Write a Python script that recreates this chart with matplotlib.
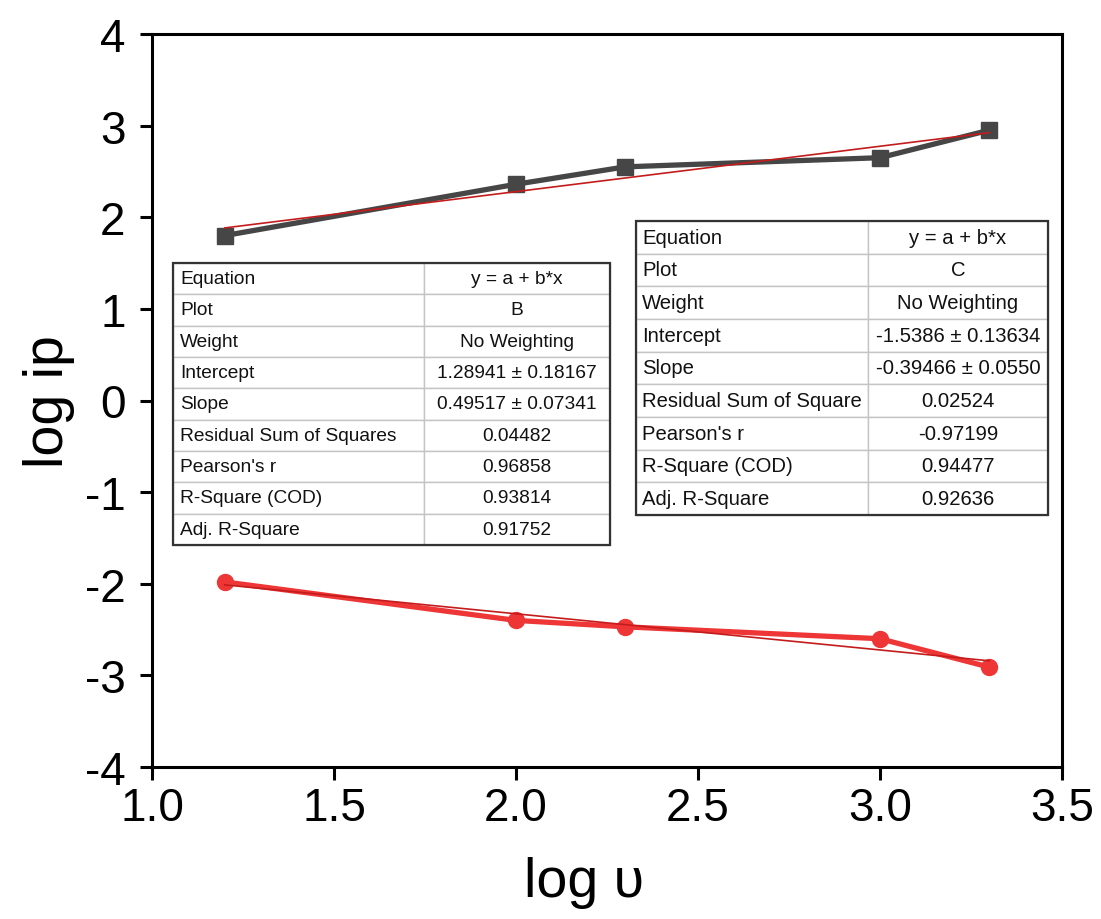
import matplotlib
matplotlib.use("Agg")
import matplotlib.pyplot as plt
import numpy as np
from matplotlib.patches import Rectangle

# log scan rate values
log_v = [1.2, 2.0, 2.3, 3.0, 3.3]
# log peak current, series B (squares) and series C (circles)
log_ip_B = [1.80, 2.36, 2.55, 2.65, 2.95]
log_ip_C = [-1.98, -2.40, -2.47, -2.60, -2.91]

# linear fit parameters
fit_B = {"a": 1.28941, "b": 0.49517}
fit_C = {"a": -1.5386, "b": -0.39466}

x_ticks = [1.0, 1.5, 2.0, 2.5, 3.0, 3.5]
x_ticklabels = ["1.0", "1.5", "2.0", "2.5", "3.0", "3.5"]
y_ticks = [-4, -3, -2, -1, 0, 1, 2, 3, 4]
y_ticklabels = ["-4", "-3", "-2", "-1", "0", "1", "2", "3", "4"]

table_keys = ["Equation", "Plot", "Weight", "Intercept", "Slope",
              "Residual Sum of Squares", "Pearson's r", "R-Square (COD)",
              "Adj. R-Square"]
table_B_vals = ["y = a + b*x", "B", "No Weighting", "1.28941 \u00b1 0.18167",
                "0.49517 \u00b1 0.07341", "0.04482", "0.96858", "0.93814",
                "0.91752"]
table_C_keys = ["Equation", "Plot", "Weight", "Intercept", "Slope",
                "Residual Sum of Square", "Pearson's r", "R-Square (COD)",
                "Adj. R-Square"]
table_C_vals = ["y = a + b*x", "C", "No Weighting", "-1.5386 \u00b1 0.13634",
                "-0.39466 \u00b1 0.0550", "0.02524", "-0.97199", "0.94477",
                "0.92636"]

plt.rcParams["font.family"] = ["Liberation Sans", "DejaVu Sans"]

fig = plt.figure(figsize=(11.01, 9.20), dpi=100)
ax = fig.add_axes([152 / 1101, 1 - 768 / 920, 910 / 1101, 733 / 920])

gray = "#464646"
red = "#ee3636"
fit_col = "#c41c1c"

ax.plot(log_v, log_ip_B, color=gray, lw=3.8, marker="s", ms=12,
        zorder=3)
ax.plot(log_v, log_ip_C, color=red, lw=3.8, marker="o", ms=11.5,
        zorder=3)

xf = np.array([log_v[0], log_v[-1]])
ax.plot(xf, fit_B["a"] + fit_B["b"] * xf, color=fit_col, lw=1.2, zorder=4)
ax.plot(xf, fit_C["a"] + fit_C["b"] * xf, color=fit_col, lw=1.2, zorder=4)

ax.set_xlim(1.0, 3.5)
ax.set_ylim(-4, 4)
ax.set_xticks(x_ticks)
ax.set_xticklabels(x_ticklabels)
ax.set_yticks(y_ticks)
ax.set_yticklabels(y_ticklabels)
ax.tick_params(axis="both", direction="out", length=9, width=2.2,
               labelsize=33, color="black")
ax.tick_params(axis="x", pad=5)
ax.tick_params(axis="y", pad=10)
for sp in ax.spines.values():
    sp.set_linewidth(2.2)
    sp.set_color("black")

ax.set_xlabel("log \u03c5", fontsize=40)
ax.xaxis.set_label_coords(0.475, -0.122)
ax.xaxis.label.set_va("top")
ax.set_ylabel("log ip", fontsize=40)
ax.yaxis.set_label_coords(-0.085, 0.5)
ax.yaxis.label.set_va("bottom")


def draw_table(keys, vals, bbox, split, fontsize, pad_px):
    tb = ax.table(cellText=[[k, v] for k, v in zip(keys, vals)],
                  bbox=bbox, colWidths=[split, 1 - split],
                  cellLoc="center", zorder=6)
    tb.auto_set_font_size(False)
    tb.set_fontsize(fontsize)
    width_px = bbox[2] * 910
    for (r, c), cell in tb.get_celld().items():
        cell.set_edgecolor("#c4c4c4")
        cell.set_linewidth(1.0)
        cell.set_facecolor("white")
        cell.get_text().set_color("#111111")
        if c == 0:
            cell.get_text().set_ha("left")
            cell.PAD = pad_px / (width_px * split)
    ax.add_patch(Rectangle((bbox[0], bbox[1]), bbox[2], bbox[3],
                           transform=ax.transAxes, fill=False,
                           edgecolor="#333333", lw=1.6, zorder=7))
    return tb


draw_table(table_keys, table_B_vals,
           [(173 - 152) / 910, (768 - 546) / 733, (610 - 173) / 910,
            (546 - 264) / 733], 251 / 437, 13.8, 7)
draw_table(table_C_keys, table_C_vals,
           [(636 - 152) / 910, (768 - 516) / 733, (1048 - 636) / 910,
            (516 - 222) / 733], 232 / 412, 14.6, 6)

fig.savefig("out.png", dpi=100, facecolor="white")
